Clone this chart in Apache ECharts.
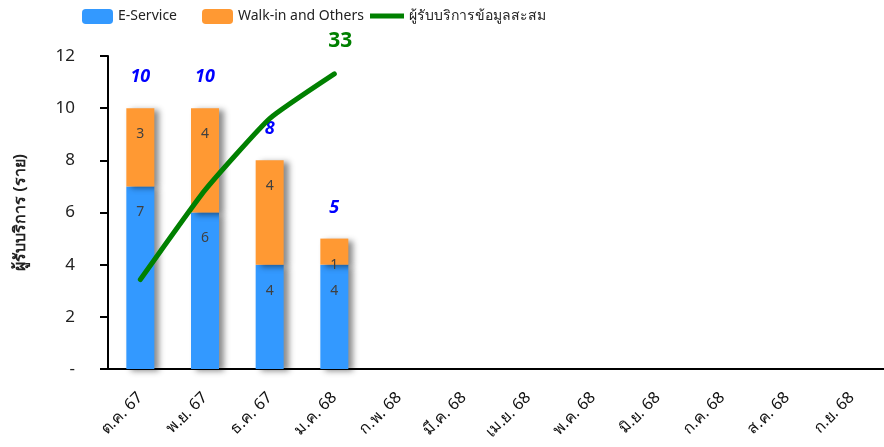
<!DOCTYPE html>
<html>
<head>
<meta charset="utf-8">
<script src="https://cdn.jsdelivr.net/npm/echarts@6/dist/echarts.min.js"></script>
<style>
  html, body { margin: 0; padding: 0; background: #fff; }
  #main { width: 884px; height: 447px; }
</style>
</head>
<body>
<div id="main"></div>
<script>
var months = ['ต.ค. 67', 'พ.ย. 67', 'ธ.ค. 67', 'ม.ค. 68', 'ก.พ. 68', 'มี.ค. 68',
              'เม.ย. 68', 'พ.ค. 68', 'มิ.ย. 68', 'ก.ค. 68', 'ส.ค. 68', 'ก.ย. 68'];
var eService = [7, 6, 4, 4, null, null, null, null, null, null, null, null];
var walkIn = [3, 4, 4, 1, null, null, null, null, null, null, null, null];
var cumulative = [10, 20, 28, 33, null, null, null, null, null, null, null, null];
var yTicks = [0, 2, 4, 6, 8, 10, 12];

var totals = eService.map(function (v, i) {
    return v == null ? null : v + walkIn[i];
});

var font = "'Noto Sans', 'DejaVu Sans', sans-serif";
var chart = echarts.init(document.getElementById('main'));

var barShadow = {
    shadowColor: 'rgba(0,0,0,0.45)',
    shadowBlur: 6,
    shadowOffsetX: 5,
    shadowOffsetY: 2
};

var legendText = { fontSize: 14, color: '#222', fontFamily: font };

option = {
    animation: false,
    textStyle: { fontFamily: font },
    // three legends so each item sits where it does in the original
    legend: [
        { top: 4, left: 77, itemWidth: 31, itemHeight: 15, textStyle: legendText, data: ['E-Service'] },
        { top: 4, left: 197, itemWidth: 31, itemHeight: 15, textStyle: legendText, data: ['Walk-in and Others'] },
        {
            top: 4, left: 365, itemWidth: 34, itemHeight: 15, textStyle: legendText,
            data: [{ name: 'ผู้รับบริการข้อมูลสะสม', icon: 'path://M0,0 L40,0 L40,6 L0,6 Z' }]
        }
    ],
    grid: {
        left: 108,
        right: 0,
        top: 56,
        bottom: 78
    },
    xAxis: {
        type: 'category',
        data: months,
        axisLine: { lineStyle: { color: '#000', width: 2 } },
        axisTick: { show: false },
        axisLabel: {
            rotate: 45,
            fontSize: 16,
            color: '#111',
            margin: 26,
            interval: 0
        }
    },
    yAxis: [
        {
            type: 'value',
            min: 0,
            max: 12,
            interval: 2,
            name: 'ผู้รับบริการ (ราย)',
            nameLocation: 'middle',
            nameGap: 80,
            nameTextStyle: { fontSize: 16, fontWeight: 'bold', color: '#222' },
            axisLine: { show: true, lineStyle: { color: '#000', width: 2 } },
            axisTick: { show: true, length: 8, lineStyle: { color: '#000', width: 2 } },
            splitLine: { show: false },
            axisLabel: {
                fontSize: 17,
                color: '#222',
                margin: 33,
                formatter: function (v) { return v === yTicks[0] ? '-' : v; }
            }
        },
        {
            type: 'value',
            min: 0,
            max: 35,
            show: false,
            splitLine: { show: false }
        }
    ],
    series: [
        {
            name: 'E-Service',
            type: 'bar',
            stack: 'total',
            barWidth: 28,
            data: eService,
            itemStyle: Object.assign({ color: '#3399ff' }, barShadow),
            label: {
                show: true,
                position: 'insideTop',
                distance: 19,
                fontSize: 14,
                color: '#404040'
            }
        },
        {
            name: 'Walk-in and Others',
            type: 'bar',
            stack: 'total',
            barWidth: 28,
            data: walkIn,
            itemStyle: Object.assign({ color: '#ff9933' }, barShadow),
            label: {
                show: true,
                position: 'insideTop',
                distance: 19,
                fontSize: 14,
                color: '#404040'
            }
        },
        {
            // invisible helper for the totals above the bars
            name: 'totals',
            type: 'bar',
            stack: 'total',
            barWidth: 28,
            data: totals.map(function (v) { return v == null ? null : 0; }),
            itemStyle: { color: 'transparent' },
            label: {
                show: true,
                position: 'top',
                distance: 22,
                fontSize: 18,
                fontWeight: 'bold',
                fontStyle: 'italic',
                color: '#0000ff',
                formatter: function (p) { return totals[p.dataIndex]; }
            }
        },
        {
            name: 'ผู้รับบริการข้อมูลสะสม',
            type: 'line',
            yAxisIndex: 1,
            data: cumulative,
            symbol: 'none',
            smooth: 0.15,
            lineStyle: { color: '#008000', width: 5, cap: 'round', join: 'round' },
            itemStyle: { color: '#008000' },
            endLabel: {
                show: true,
                align: 'center',
                verticalAlign: 'bottom',
                offset: [-2, -22],
                fontSize: 21,
                fontWeight: 'bold',
                color: '#008000'
            }
        }
    ]
};
chart.setOption(option, true);
</script>
</body>
</html>
